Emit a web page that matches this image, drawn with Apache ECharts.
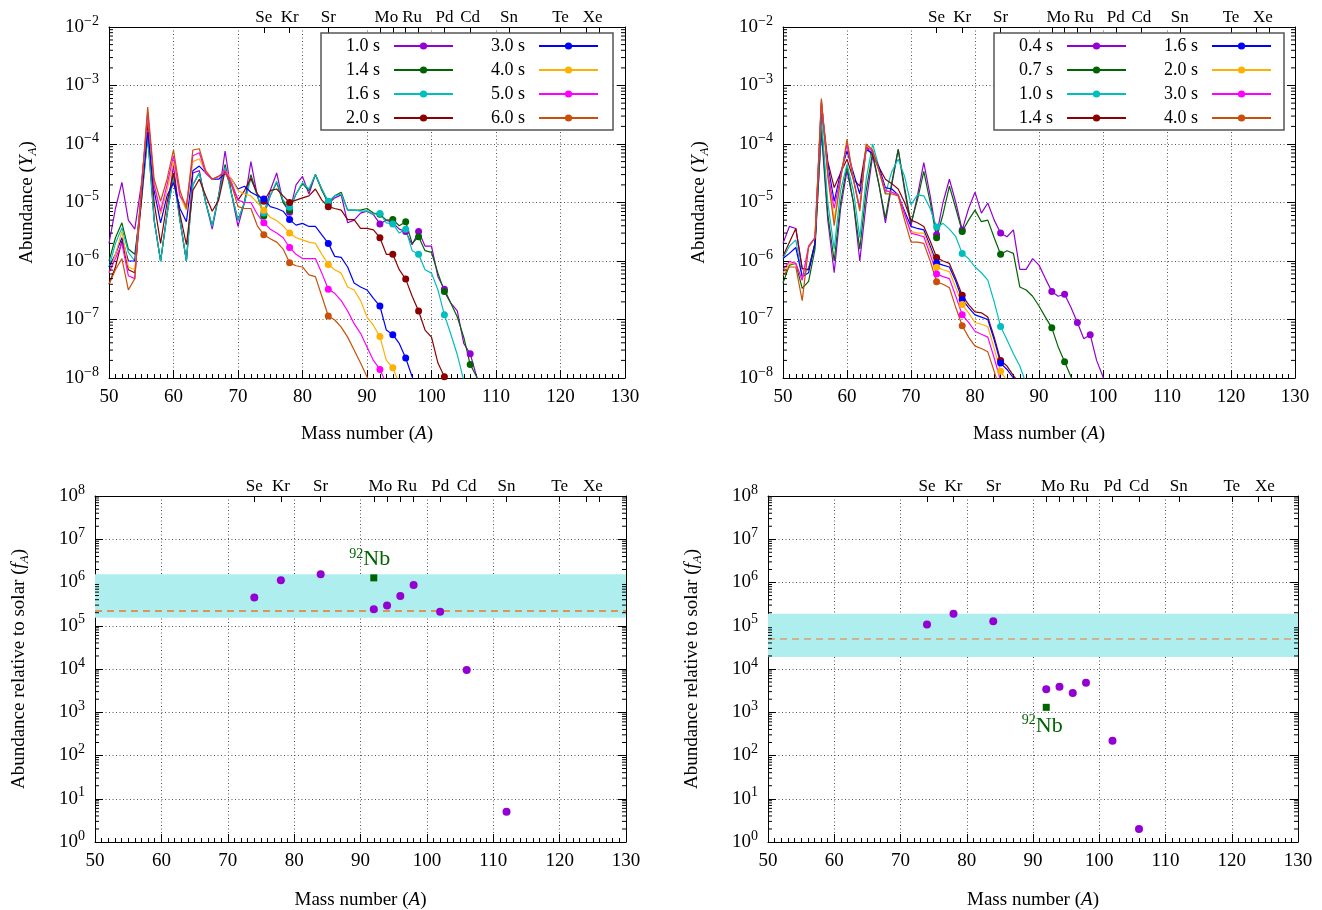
<!DOCTYPE html>
<html>
<head>
<meta charset="utf-8">
<script src="https://cdn.jsdelivr.net/npm/echarts@6/dist/echarts.min.js"></script>
<style>
html,body{margin:0;padding:0;background:#fff;}
#main{width:1322px;height:910px;}
</style>
</head>
<body>
<div id="main"></div>
<script>
// every curve starts at mass number A = 50, one value per A
var massStart = 50;
var timesLeft = ['1.0 s', '1.4 s', '1.6 s', '2.0 s', '3.0 s', '4.0 s', '5.0 s', '6.0 s'];
var timesRight = ['0.4 s', '0.7 s', '1.0 s', '1.4 s', '1.6 s', '2.0 s', '3.0 s', '4.0 s'];
var curveColors = ['#9400d3', '#006400', '#00bebe', '#8b0000', '#0000ff', '#ffb000', '#ff00ff', '#c8500a'];

// p-nuclei: markers on the curves and ticks of the element axis
var pNuclei = [74, 78, 84, 92, 94, 96, 98, 102, 106, 108, 112, 114, 115, 120, 124, 126];
var elemTicks = [74, 78, 84, 92, 94, 96, 98, 102, 106, 112, 120, 124, 126];
var elemPos = [74, 78, 84, 93, 97, 102, 106, 112, 120, 125];
var elemName = ['Se', 'Kr', 'Sr', 'Mo', 'Ru', 'Pd', 'Cd', 'Sn', 'Te', 'Xe'];

// ---- left panel: Y_A at 1.0 ... 6.0 s
var yL1p0 = [2.0e-6, 7.9e-6, 2.2e-5, 5.0e-6, 3.5e-6, 2.0e-5, 2.5e-4, 5.0e-6, 1.0e-6, 6.3e-6,
  4.5e-5, 5.0e-6, 1.0e-6, 3.2e-5, 3.5e-5, 1.0e-5, 3.5e-6, 1.3e-5, 7.6e-5, 1.4e-5,
  3.9e-6, 1.0e-5, 5.0e-5, 1.3e-5, 6.3e-6, 1.6e-5, 3.2e-5, 1.0e-5, 6.8e-6, 2.0e-5,
  2.8e-5, 1.4e-5, 3.0e-5, 1.7e-5, 9.5e-6, 1.2e-5, 1.35e-5, 4.5e-6, 5.0e-6, 6.6e-6,
  7.1e-6, 6.2e-6, 4.3e-6, 5.0e-6, 4.5e-6, 3.5e-6, 3.2e-6, 1.9e-6, 3.2e-6, 1.8e-6,
  1.8e-6, 5.4e-7, 3.3e-7, 1.9e-7, 1.4e-7, 3.9e-8, 2.6e-8, 1.05e-8, 4e-9];
var yL1p4 = [1.0e-6, 2.5e-6, 4.5e-6, 1.6e-6, 1.3e-6, 1.0e-5, 1.3e-4, 5.0e-6, 1.0e-6, 6.3e-6,
  2.8e-5, 5.0e-6, 1.0e-6, 2.0e-5, 3.2e-5, 1.0e-5, 4.0e-6, 1.3e-5, 4.5e-5, 1.4e-5,
  5.0e-6, 1.0e-5, 3.0e-5, 1.3e-5, 5.9e-6, 1.3e-5, 2.2e-5, 1.0e-5, 7.4e-6, 1.4e-5,
  2.1e-5, 1.6e-5, 3.0e-5, 1.6e-5, 1.0e-5, 1.3e-5, 1.5e-5, 7.4e-6, 7.4e-6, 7.4e-6,
  7.9e-6, 6.6e-6, 6.3e-6, 5.0e-6, 5.1e-6, 4.0e-6, 4.7e-6, 2.0e-6, 2.6e-6, 1.5e-6,
  1.4e-6, 6.2e-7, 3.0e-7, 1.9e-7, 1.1e-7, 5.0e-8, 1.7e-8, 1.05e-8, 4e-9];
var yL1p6 = [7.9e-7, 2.0e-6, 3.7e-6, 1.4e-6, 1.0e-6, 1.0e-5, 1.4e-4, 5.0e-6, 9.8e-7, 6.3e-6,
  2.8e-5, 5.0e-6, 1.0e-6, 2.0e-5, 3.2e-5, 1.0e-5, 3.9e-6, 1.3e-5, 4.0e-5, 1.4e-5,
  5.0e-6, 1.0e-5, 2.6e-5, 1.3e-5, 6.6e-6, 1.3e-5, 2.3e-5, 1.1e-5, 8.3e-6, 1.4e-5,
  2.2e-5, 1.7e-5, 3.0e-5, 1.7e-5, 1.05e-5, 1.3e-5, 1.4e-5, 7.4e-6, 7.4e-6, 7.1e-6,
  7.2e-6, 6.3e-6, 6.5e-6, 4.5e-6, 4.3e-6, 3.0e-6, 3.5e-6, 1.5e-6, 1.3e-6, 7.1e-7,
  6.2e-7, 3.2e-7, 1.2e-7, 5.6e-8, 2.5e-8, 9e-9];
var yL2p0 = [4.0e-7, 7.9e-7, 2.2e-6, 7.1e-7, 6.3e-7, 1.0e-5, 2.5e-4, 1.0e-5, 2.0e-6, 1.0e-5,
  3.2e-5, 6.3e-6, 1.9e-6, 1.6e-5, 2.5e-5, 1.3e-5, 7.1e-6, 1.1e-5, 3.5e-5, 2.0e-5,
  1.1e-5, 1.6e-5, 2.6e-5, 1.4e-5, 1.05e-5, 1.6e-5, 1.7e-5, 1.3e-5, 1.0e-5, 1.1e-5,
  1.2e-5, 1.3e-5, 1.7e-5, 1.1e-5, 8.5e-6, 7.9e-6, 7.4e-6, 5.1e-6, 5.1e-6, 3.6e-6,
  3.6e-6, 3.4e-6, 2.5e-6, 1.3e-6, 1.3e-6, 7.1e-7, 4.9e-7, 2.5e-7, 1.4e-7, 6.6e-8,
  5.0e-8, 1.8e-8, 1.05e-8, 4e-9];
var yL3p0 = [7.9e-7, 1.3e-6, 2.5e-6, 1.0e-6, 1.0e-6, 1.3e-5, 1.6e-4, 1.6e-5, 4.5e-6, 1.3e-5,
  2.2e-5, 7.9e-6, 4.7e-6, 3.5e-5, 4.2e-5, 3.2e-5, 2.5e-5, 2.5e-5, 3.2e-5, 2.5e-5,
  1.7e-5, 1.9e-5, 1.5e-5, 1.3e-5, 1.15e-5, 8.5e-6, 7.9e-6, 7.1e-6, 5.1e-6, 4.1e-6,
  4.4e-6, 3.9e-6, 3.9e-6, 2.8e-6, 2.0e-6, 1.2e-6, 1.15e-6, 7.9e-7, 4.2e-7, 3.6e-7,
  3.2e-7, 2.3e-7, 1.7e-7, 6.6e-8, 5.5e-8, 3.9e-8, 2.2e-8, 1.05e-8, 5e-9];
var yL4p0 = [6.3e-7, 1.3e-6, 3.2e-6, 7.9e-7, 7.1e-7, 1.6e-5, 3.2e-4, 2.0e-5, 6.3e-6, 1.6e-5,
  5.0e-5, 1.3e-5, 7.4e-6, 5.0e-5, 5.6e-5, 3.2e-5, 2.5e-5, 2.8e-5, 3.5e-5, 2.5e-5,
  1.6e-5, 1.4e-5, 1.3e-5, 1.0e-5, 7.4e-6, 5.6e-6, 4.9e-6, 4.0e-6, 3.0e-6, 2.5e-6,
  2.3e-6, 2.1e-6, 2.0e-6, 1.3e-6, 8.7e-7, 7.1e-7, 6.2e-7, 3.6e-7, 3.2e-7, 2.1e-7,
  1.1e-7, 7.9e-8, 5.1e-8, 2.0e-8, 1.5e-8, 8e-9];
var yL5p0 = [6.3e-7, 1.1e-6, 2.0e-6, 5.6e-7, 5.0e-7, 1.6e-5, 3.5e-4, 2.0e-5, 7.1e-6, 2.0e-5,
  6.3e-5, 1.3e-5, 8.9e-6, 6.3e-5, 7.1e-5, 3.2e-5, 2.5e-5, 2.8e-5, 3.5e-5, 2.2e-5,
  1.1e-5, 1.0e-5, 1.0e-5, 6.3e-6, 4.5e-6, 3.5e-6, 3.0e-6, 2.5e-6, 1.7e-6, 1.3e-6,
  1.1e-6, 1.1e-6, 1.1e-6, 6.2e-7, 3.3e-7, 2.8e-7, 2.1e-7, 1.4e-7, 8.5e-8, 5.8e-8,
  3.4e-8, 2.0e-8, 1.4e-8, 8e-9];
var yL6p0 = [4.0e-7, 7.1e-7, 1.1e-6, 3.2e-7, 5.0e-7, 1.6e-5, 4.3e-4, 2.5e-5, 1.05e-5, 2.5e-5,
  7.9e-5, 1.6e-5, 7.9e-6, 7.9e-5, 8.3e-5, 3.5e-5, 2.5e-5, 2.8e-5, 3.2e-5, 2.0e-5,
  8.5e-6, 7.9e-6, 7.9e-6, 4.0e-6, 2.8e-6, 2.4e-6, 2.1e-6, 1.6e-6, 9.3e-7, 8.3e-7,
  7.9e-7, 5.8e-7, 5.4e-7, 2.5e-7, 1.15e-7, 9.8e-8, 7.4e-8, 5.0e-8, 3.0e-8, 1.8e-8,
  1.05e-8, 5e-9];

// ---- right panel: Y_A at 0.4 ... 4.0 s
var yR0p4 = [2.0e-6, 3.9e-6, 3.6e-6, 7.4e-7, 7.1e-7, 2.0e-6, 1.6e-4, 5.0e-6, 6.3e-7, 7.9e-6,
  3.5e-5, 1.0e-5, 1.0e-6, 1.0e-5, 6.3e-5, 2.0e-5, 4.5e-6, 2.0e-5, 8.1e-5, 1.6e-5,
  4.0e-6, 1.3e-5, 4.8e-5, 1.3e-5, 2.8e-6, 1.0e-5, 2.5e-5, 1.0e-5, 3.4e-6, 7.9e-6,
  1.5e-5, 6.6e-6, 9.8e-6, 5.0e-6, 3.0e-6, 2.6e-6, 3.4e-6, 7.2e-7, 7.2e-7, 1.1e-6,
  8.5e-7, 5.0e-7, 3.0e-7, 2.5e-7, 2.7e-7, 1.6e-7, 8.9e-8, 4.7e-8, 5.5e-8, 2.0e-8,
  1.05e-8, 4e-9];
var yR0p7 = [4.2e-7, 8.5e-7, 9.1e-7, 3.4e-7, 4.5e-7, 1.6e-6, 2.0e-4, 6.3e-6, 1.0e-6, 1.0e-5,
  4.2e-5, 1.0e-5, 1.6e-6, 1.6e-5, 7.1e-5, 2.0e-5, 5.4e-6, 2.2e-5, 8.1e-5, 1.8e-5,
  4.5e-6, 1.1e-5, 3.4e-5, 1.0e-5, 2.5e-6, 6.3e-6, 1.9e-5, 7.9e-6, 3.2e-6, 5.0e-6,
  7.4e-6, 4.7e-6, 5.0e-6, 2.5e-6, 1.3e-6, 1.5e-6, 1.35e-6, 3.6e-7, 3.2e-7, 2.5e-7,
  1.7e-7, 1.1e-7, 7.2e-8, 3.4e-8, 1.9e-8, 1.05e-8, 5e-9];
var yR1p0 = [1.1e-6, 1.8e-6, 2.3e-6, 5.4e-7, 7.6e-7, 2.0e-6, 2.8e-4, 1.0e-5, 1.6e-6, 1.6e-5,
  4.5e-5, 1.6e-5, 2.5e-6, 2.5e-5, 1.0e-4, 4.0e-5, 1.4e-5, 3.4e-5, 5.5e-5, 2.8e-5,
  9.1e-6, 1.35e-5, 1.3e-5, 7.9e-6, 3.8e-6, 4.4e-6, 3.5e-6, 2.6e-6, 1.35e-6, 1.1e-6,
  7.9e-7, 6.3e-7, 4.7e-7, 2.0e-7, 7.6e-8, 4.5e-8, 2.6e-8, 1.6e-8, 8e-9];
var yR1p4 = [1.2e-6, 2.1e-6, 3.6e-6, 7.4e-7, 7.1e-7, 2.0e-6, 5.0e-4, 5.0e-5, 1.8e-5, 3.2e-5,
  5.5e-5, 2.5e-5, 1.9e-5, 8.9e-5, 6.3e-5, 4.0e-5, 2.5e-5, 2.1e-5, 1.7e-5, 1.0e-5,
  5.0e-6, 4.5e-6, 3.9e-6, 2.2e-6, 1.15e-6, 1.0e-6, 9.1e-7, 5.0e-7, 2.6e-7, 1.8e-7,
  1.35e-7, 1.3e-7, 1.1e-7, 5.0e-8, 2.0e-8, 1.6e-8, 1.1e-8, 8e-9];
var yR1p6 = [1.1e-6, 1.35e-6, 1.7e-6, 5.4e-7, 6.3e-7, 2.0e-6, 4.0e-4, 4.5e-5, 1.05e-5, 3.2e-5,
  7.6e-5, 3.2e-5, 1.4e-5, 7.9e-5, 7.1e-5, 4.0e-5, 1.8e-5, 1.7e-5, 1.35e-5, 7.1e-6,
  3.9e-6, 3.6e-6, 3.4e-6, 1.8e-6, 9.3e-7, 8.5e-7, 7.9e-7, 4.5e-7, 2.2e-7, 1.6e-7,
  1.2e-7, 1.1e-7, 1.0e-7, 4.5e-8, 1.8e-8, 1.4e-8, 1.0e-8, 7e-9];
var yR2p0 = [6.3e-7, 8.9e-7, 9.1e-7, 4.7e-7, 1.8e-6, 2.5e-6, 5.2e-4, 3.5e-5, 5.0e-6, 2.5e-5,
  1.05e-4, 2.5e-5, 7.9e-6, 9.5e-5, 7.6e-5, 3.5e-5, 1.6e-5, 1.5e-5, 1.35e-5, 6.3e-6,
  3.2e-6, 3.0e-6, 3.0e-6, 1.6e-6, 7.8e-7, 7.1e-7, 6.6e-7, 3.5e-7, 1.8e-7, 1.3e-7,
  8.9e-8, 8.3e-8, 7.6e-8, 3.2e-8, 1.3e-8, 9e-9];
var yR3p0 = [7.1e-7, 9.8e-7, 9.1e-7, 4.7e-7, 1.8e-6, 2.5e-6, 5.6e-4, 3.2e-5, 7.9e-6, 2.8e-5,
  1.0e-4, 2.5e-5, 7.9e-6, 8.9e-5, 7.6e-5, 3.5e-5, 1.6e-5, 1.5e-5, 1.35e-5, 6.3e-6,
  3.0e-6, 2.8e-6, 2.6e-6, 1.3e-6, 6.0e-7, 5.4e-7, 5.0e-7, 2.5e-7, 1.2e-7, 8.9e-8,
  6.3e-8, 5.6e-8, 5.0e-8, 2.2e-8, 9e-9];
var yR4p0 = [5.6e-7, 7.9e-7, 7.9e-7, 2.1e-7, 1.7e-6, 2.5e-6, 6.0e-4, 2.8e-5, 4.0e-6, 2.5e-5,
  1.2e-4, 2.5e-5, 7.1e-6, 1.0e-4, 7.9e-5, 3.5e-5, 1.4e-5, 1.4e-5, 1.3e-5, 5.0e-6,
  2.1e-6, 2.1e-6, 2.0e-6, 1.0e-6, 4.4e-7, 4.0e-7, 3.5e-7, 1.6e-7, 7.8e-8, 5.0e-8,
  3.5e-8, 3.2e-8, 2.8e-8, 1.3e-8, 6e-9];

// ---- bottom panels: overproduction factors f_A of the p-nuclei
var fLeftA = [74, 78, 84, 92, 94, 96, 98, 102, 106, 112];
var fLeft = [4.5e5, 1.13e6, 1.55e6, 2.4e5, 2.95e5, 4.9e5, 8.7e5, 2.1e5, 9.5e3, 5.0];
var fRightA = [74, 78, 84, 92, 94, 96, 98, 102, 106];
var fRight = [1.07e5, 1.9e5, 1.27e5, 3.4e3, 3.9e3, 2.8e3, 4.8e3, 2.2e2, 2.0];
var nbA = 92;
var nbLeft = 1.28e6, nbRight = 1.3e3;
var bandLeft = [1.53e5, 1.55e6], meanLeft = 2.27e5;
var bandRight = [1.9e4, 1.9e5], meanRight = 5.1e4;

var serif = 'Liberation Serif';

var grids = [
  {left: 109, top: 27, width: 516, height: 351},
  {left: 783, top: 27, width: 512, height: 351},
  {left: 95, top: 496, width: 531, height: 346},
  {left: 768, top: 496, width: 530, height: 346}
];

var nameRich = {
  n: {fontFamily: serif, fontSize: 19, color: '#000', lineHeight: 24},
  i: {fontFamily: serif, fontSize: 19, fontStyle: 'italic', color: '#000', lineHeight: 24},
  sub: {fontFamily: serif, fontSize: 13, fontStyle: 'italic', color: '#000', verticalAlign: 'bottom'}
};
var powRich = {
  b: {fontFamily: serif, fontSize: 19, color: '#000', lineHeight: 26},
  e: {fontFamily: serif, fontSize: 14, color: '#000', verticalAlign: 'top'}
};
function powLabel(v){
  var e = Math.round(Math.log(v) / Math.LN10);
  return '{b|10}{e|' + (e < 0 ? '\u2212' + (-e) : e) + '}';
}
var axisBlack = {show: true, onZero: false, lineStyle: {color: '#000', width: 1}};
var gridDots = {show: true, lineStyle: {color: '#555', type: [1, 2.5], width: 1}};

function massAxis(g){
  return {
    type: 'value', gridIndex: g, position: 'bottom', min: 50, max: 130, interval: 10,
    name: '{n|Mass number (}{i|A}{n|)}', nameLocation: 'middle', nameGap: g < 2 ? 44 : 46,
    nameTextStyle: {rich: nameRich},
    axisLine: axisBlack,
    axisTick: {show: true, inside: true, length: 8, lineStyle: {color: '#000'}},
    minorTick: {show: true, splitNumber: 10, length: 4, lineStyle: {color: '#000'}},
    axisLabel: {color: '#000', fontFamily: serif, fontSize: 19, margin: 10},
    splitLine: gridDots
  };
}
function elemAxis(g){
  return {
    type: 'value', gridIndex: g, position: 'top', min: 50, max: 130,
    axisLine: axisBlack,
    axisTick: {show: true, inside: true, length: 6, customValues: elemTicks, lineStyle: {color: '#000'}},
    axisLabel: {
      show: true, customValues: elemPos, margin: 1, color: '#000', fontFamily: serif, fontSize: 17,
      formatter: function(v){ return elemName[elemPos.indexOf(v)] || ''; }
    },
    splitLine: {show: false}
  };
}
function logAxis(g, right){
  var top = g < 2;
  var ax = {
    type: 'log', logBase: 10, gridIndex: g, position: right ? 'right' : 'left',
    min: top ? 1e-8 : 1, max: top ? 1e-2 : 1e8,
    axisLine: axisBlack,
    axisTick: {show: true, inside: true, length: 8, lineStyle: {color: '#000'}},
    axisLabel: {show: !right, margin: 10, formatter: powLabel, rich: powRich},
    splitLine: right ? {show: false} : gridDots
  };
  if (!right) {
    ax.name = top ? '{n|Abundance (}{i|Y}{sub|A}{n|)}' : '{n|Abundance relative to solar (}{i|f}{sub|A}{n|)}';
    ax.nameLocation = 'middle';
    ax.nameGap = [70, 72, 64, 64][g];
    ax.nameTextStyle = {rich: nameRich};
  }
  return ax;
}

// minor log ticks (2..9 per decade) on both vertical edges
function minorValues(lo, hi){
  var out = [];
  for (var e = lo; e < hi; e++) {
    for (var m = 2; m < 10; m++) out.push([50, m * Math.pow(10, e)]);
  }
  return out;
}
function renderMinor(params, api){
  var l = api.coord([50, api.value(1)]);
  var r = api.coord([130, api.value(1)]);
  var st = {stroke: '#000', lineWidth: 1};
  return {type: 'group', children: [
    {type: 'line', shape: {x1: l[0], y1: l[1], x2: l[0] + 4, y2: l[1]}, style: st},
    {type: 'line', shape: {x1: r[0] - 4, y1: r[1], x2: r[0], y2: r[1]}, style: st}
  ]};
}

function curveSeries(prefix, times, arrays, g){
  return times.map(function(t, k){
    return {
      name: prefix + t, type: 'line', xAxisIndex: 2 * g, yAxisIndex: 2 * g,
      data: arrays[k].map(function(v, j){ return [massStart + j, v]; }),
      symbol: 'circle', showSymbol: true, showAllSymbol: true,
      symbolSize: function(val){ return pNuclei.indexOf(val[0]) >= 0 ? 7 : 0; },
      lineStyle: {color: curveColors[k], width: 1.2},
      itemStyle: {color: curveColors[k]},
      emphasis: {disabled: true}, z: 2
    };
  });
}

// each legend column is its own legend; the first one carries the frame
function legendCol(prefix, names, left, top, pad, framed){
  var lg = {
    data: names.map(function(t){ return prefix + t; }),
    left: left, top: top, orient: 'vertical',
    align: 'right', itemWidth: 59, itemHeight: 9, itemGap: 6,
    padding: pad, selectedMode: false, z: framed ? 4 : 5,
    formatter: function(name){ return name.slice(1); },
    textStyle: {fontFamily: serif, fontSize: 18, lineHeight: 18, color: '#000', padding: [0, 9, 0, 0]}
  };
  if (framed) {
    lg.backgroundColor = '#fff';
    lg.borderColor = '#555';
    lg.borderWidth = 1.5;
  }
  return lg;
}

function factorSeries(g, masses, vals, nb, band, mean, dashColor, nbBelow){
  return [{
    type: 'scatter', xAxisIndex: 2 * g, yAxisIndex: 2 * g, z: 3,
    data: masses.map(function(a, i){ return [a, vals[i]]; }),
    symbol: 'circle', symbolSize: 8, itemStyle: {color: '#9400d3', opacity: 1},
    emphasis: {disabled: true},
    markArea: {silent: true, itemStyle: {color: '#afeeee', opacity: 1}, data: [[{yAxis: band[0]}, {yAxis: band[1]}]]},
    markLine: {
      silent: true, symbol: 'none', z: 1.5, label: {show: false},
      lineStyle: {color: dashColor, type: [7, 5], width: 1.5, opacity: 1},
      data: [{yAxis: mean}]
    }
  }, {
    type: 'scatter', xAxisIndex: 2 * g, yAxisIndex: 2 * g, z: 4,
    data: [[nbA, nb]], symbol: 'rect', symbolSize: 7, itemStyle: {color: '#006400', opacity: 1},
    emphasis: {disabled: true},
    label: {
      show: true, position: nbBelow ? 'bottom' : 'top', distance: 3, offset: [-4, 0],
      formatter: '{s|92}{n|Nb}',
      rich: {
        s: {fontFamily: serif, fontSize: 14, color: '#006400', verticalAlign: 'top'},
        n: {fontFamily: serif, fontSize: 22, color: '#006400', lineHeight: 24}
      }
    }
  }];
}

var xAxes = [], yAxes = [], series = [];
for (var g = 0; g < 4; g++) {
  xAxes.push(massAxis(g), elemAxis(g));
  yAxes.push(logAxis(g, false), logAxis(g, true));
  series.push({
    type: 'custom', xAxisIndex: 2 * g, yAxisIndex: 2 * g, silent: true, z: 3,
    data: g < 2 ? minorValues(-8, -2) : minorValues(0, 8), renderItem: renderMinor
  });
}
series = series.concat(
  curveSeries('a', timesLeft, [yL1p0, yL1p4, yL1p6, yL2p0, yL3p0, yL4p0, yL5p0, yL6p0], 0),
  curveSeries('b', timesRight, [yR0p4, yR0p7, yR1p0, yR1p4, yR1p6, yR2p0, yR3p0, yR4p0], 1),
  factorSeries(2, fLeftA, fLeft, nbLeft, bandLeft, meanLeft, '#f07828', false),
  factorSeries(3, fRightA, fRight, nbRight, bandRight, meanRight, '#d8a070', true)
);

var chart = echarts.init(document.getElementById('main'), null, {renderer: 'canvas'});
chart.setOption({
  backgroundColor: '#fff',
  animation: false,
  grid: grids.map(function(r){ return echarts.util.extend({outerBoundsMode: 'none', containLabel: false}, r); }),
  legend: [
    legendCol('a', timesLeft.slice(0, 4), 321, 33, [4, 159, 3, 25], true),
    legendCol('a', timesLeft.slice(4), 491, 37, 0, false),
    legendCol('b', timesRight.slice(0, 4), 994, 33, [4, 157, 3, 25], true),
    legendCol('b', timesRight.slice(4), 1164, 37, 0, false)
  ],
  xAxis: xAxes,
  yAxis: yAxes,
  series: series
});
</script>
</body>
</html>
